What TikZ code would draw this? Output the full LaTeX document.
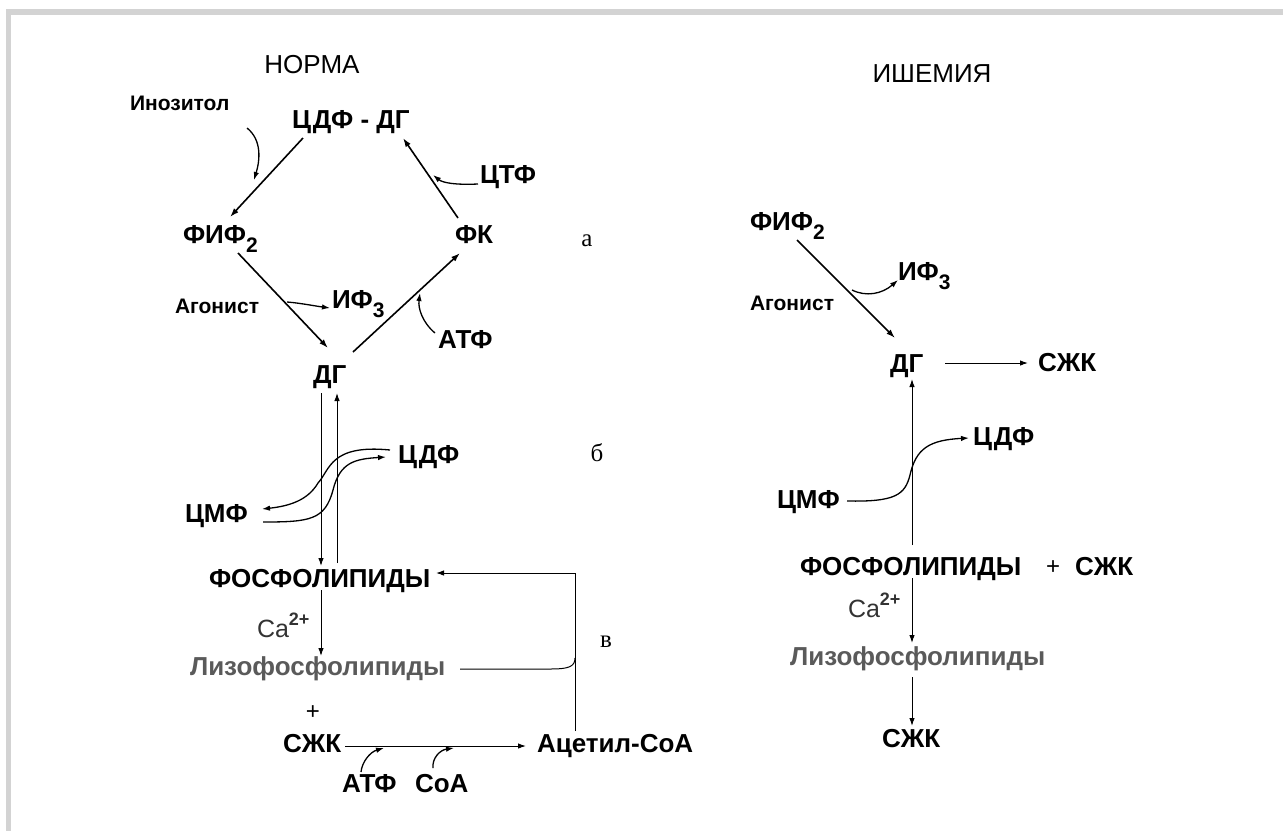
\documentclass[tikz,border=0pt]{standalone}
\usepackage{fontspec}
\setmainfont{Liberation Sans}
\newfontfamily\serifletter{Liberation Serif}
\usetikzlibrary{arrows.meta}
\definecolor{framegray}{HTML}{D3D3D3}
\definecolor{lysogray}{HTML}{5A5A5A}
\definecolor{cagray}{HTML}{333333}
\begin{document}
\begin{tikzpicture}[x=1pt,y=-1pt,
  every node/.style={inner sep=0pt, outer sep=0pt},
  big/.style={font=\bfseries\fontsize{26}{26}\selectfont, anchor=base west},
  small/.style={font=\bfseries\fontsize{21}{21}\selectfont, anchor=base west},
  title/.style={font=\fontsize{26}{26}\selectfont, anchor=base},
  letter/.style={font=\serifletter\fontsize{25}{25}\selectfont, anchor=base},
  lyso/.style={big, text=lysogray},
  arr/.style={-{Latex[length=9pt,width=6pt]}, line width=1.6pt},
  carr/.style={-{Latex[length=8pt,width=5.5pt]}, line width=1.3pt},
  tarr/.style={-{Latex[length=8pt,width=5.5pt]}, line width=1pt},
  tline/.style={line width=1pt}]
\useasboundingbox (0,0) rectangle (1283,831);
% frame
\fill[framegray] (6,9) rectangle (1283,15);
\fill[framegray] (6,9) rectangle (11,831);

\newcommand{\subtwo}[1]{\raisebox{-9pt}{\fontsize{21}{21}\selectfont #1}}
\newcommand{\catwo}{\textcolor{cagray}{\fontsize{25}{25}\selectfont Ca\raisebox{12pt}{\bfseries\fontsize{18}{18}\selectfont 2+}}}
\newcommand{\cd}{Ц\kern2pt Д}

% ---------------- left: norm ----------------
\node[title] (tnorm) at (312,73) {НОРМА};
\node[small] (ino) at (130,110) {Инозитол};
\node[big] (cdfdg) at (292,128) {\cd Ф - ДГ};
\node[big] (fif) at (183,243) {ФИФ\subtwo{2}};
\node[big] (fk) at (455,243) {ФК};
\node[letter] (la) at (587,246) {а};
\node[big] (ctf) at (480,183) {ЦТФ};
\node[small] (ago) at (175,313) {Агонист};
\node[big] (if3) at (332,308) {ИФ\subtwo{3}};
\node[big] (atf) at (438,348) {АТФ};
\node[big] (dg) at (313,383) {ДГ};

\coordinate (c1) at (303,138);
\coordinate (c2) at (230,217);
\coordinate (c3) at (458,218);
\coordinate (c4) at (403,138);
\coordinate (c5) at (238,253);
\coordinate (c6) at (328,348);
\coordinate (c7) at (353,352);
\coordinate (c8) at (460,253);
\draw[arr] (c1) -- (c2);
\draw[arr] (c3) -- (c4);
\draw[arr] (c5) -- (c6);
\draw[arr] (c7) -- (c8);
\coordinate (i1) at (247,128);
\coordinate (i2) at (254,180);
\draw[carr] (i1) .. controls (262,140) and (260,160) .. (i2);
\coordinate (t1) at (478,184);
\coordinate (t2) at (433,175);
\draw[carr] (t1) .. controls (456,185) and (443,183) .. (t2);
\coordinate (a1) at (287,302);
\coordinate (a2) at (330,308);
\draw[carr] (a1) .. controls (300,303) and (315,306) .. (a2);
\coordinate (p1) at (435,333);
\coordinate (p2) at (420,293);
\draw[carr] (p1) .. controls (422,322) and (418,308) .. (p2);

% middle part
\node[big] (cdf) at (398,463) {\cd Ф};
\node[letter] (lb) at (597,461) {б};
\node[big] (cmf) at (185,522) {ЦМФ};
\node[big] (fos) at (209,587) {ФОСФОЛИПИДЫ};
\node[anchor=base west] (ca) at (257,637) {\catwo};
\node[lyso] (lyso) at (190,675) {Лизофосфолипиды};
\node[letter] (lv) at (606,647) {в};
\node[font=\fontsize{24}{24}\selectfont, anchor=base] (plus) at (313,719) {+};
\node[big] (szk) at (283,752) {СЖК};
\node[big] (acoa) at (537,752) {Ацетил-СоА};
\node[big] (atf2) at (342,792) {АТФ};
\node[big] (coa) at (415,792) {СоА};

\coordinate (d1) at (321,393);
\coordinate (d2) at (321,566);
\coordinate (u1) at (337,563);
\coordinate (u2) at (337,393);
\draw[tarr] (d1) -- (d2);
\draw[tarr] (u1) -- (u2);
\coordinate (s1) at (390,450);
\coordinate (s2) at (262,509);
\draw[carr] (s1) .. controls (330,444) and (330,470) .. (318,483)
  .. controls (308,500) and (290,506) .. (s2);
\coordinate (r1) at (263,522);
\coordinate (r2) at (386,457);
\draw[carr] (r1) .. controls (310,522) and (325,520) .. (333,490)
  .. controls (340,462) and (355,459) .. (r2);
\coordinate (f1) at (321,590);
\coordinate (f2) at (321,656);
\draw[tarr] (f1) -- (f2);
\coordinate (v0) at (575,731);
\coordinate (v1) at (575,573);
\coordinate (v2) at (436,573);
\draw[tarr] (v0) -- (v1) -- (v2);
\coordinate (l1) at (460,669);
\coordinate (l2) at (575,658);
\draw[tline] (l1) -- (550,669) .. controls (568,669) and (575,667) .. (l2);
\coordinate (k1) at (345,746);
\coordinate (k2) at (526,746);
\draw[tarr] (k1) -- (k2);
\coordinate (b1) at (361,772);
\coordinate (b2) at (384,748);
\draw[carr] (b1) .. controls (362,762) and (370,752) .. (b2);
\coordinate (b3) at (433,768);
\coordinate (b4) at (454,748);
\draw[carr] (b3) .. controls (432,758) and (440,750) .. (b4);

% ---------------- right: ischemia ----------------
\node[title] (tisch) at (932,82) {ИШЕМИЯ};
\node[big] (rfif) at (750,230) {ФИФ\subtwo{2}};
\node[big] (rif3) at (898,280) {ИФ\subtwo{3}};
\node[small] (rago) at (750,310) {Агонист};
\node[big] (rdg) at (890,372) {ДГ};
\node[big] (rszk) at (1038,371) {СЖК};
\node[big] (rcdf) at (973,445) {\cd Ф};
\node[big] (rcmf) at (777,508) {ЦМФ};
\node[big] (rfos) at (800,575) {ФОСФОЛИПИДЫ};
\node[font=\fontsize{24}{24}\selectfont, anchor=base] (rplus) at (1053,574) {+};
\node[big] (rszk2) at (1075,575) {СЖК};
\node[anchor=base west] (rca) at (848,617) {\catwo};
\node[lyso] (rlyso) at (790,665) {Лизофосфолипиды};
\node[big] (rszk3) at (882,747) {СЖК};

\coordinate (q1) at (797,240);
\coordinate (q2) at (895,338);
\draw[arr] (q1) -- (q2);
\coordinate (q3) at (852,290);
\coordinate (q4) at (898,280);
\draw[carr] (q3) .. controls (866,297) and (882,294) .. (q4);
\coordinate (q5) at (945,363);
\coordinate (q6) at (1028,363);
\draw[tarr] (q5) -- (q6);
\coordinate (q7) at (912,545);
\coordinate (q8) at (912,379);
\draw[tarr] (q7) -- (q8);
\coordinate (m1) at (847,501);
\coordinate (m2) at (969,438);
\draw[carr] (m1) .. controls (895,502) and (905,495) .. (910,475)
  .. controls (916,448) and (930,440) .. (m2);
\coordinate (q9) at (912,578);
\coordinate (q10) at (912,643);
\draw[tarr] (q9) -- (q10);
\coordinate (q11) at (912,677);
\coordinate (q12) at (912,726);
\draw[tarr] (q11) -- (q12);
\end{tikzpicture}
\end{document}
